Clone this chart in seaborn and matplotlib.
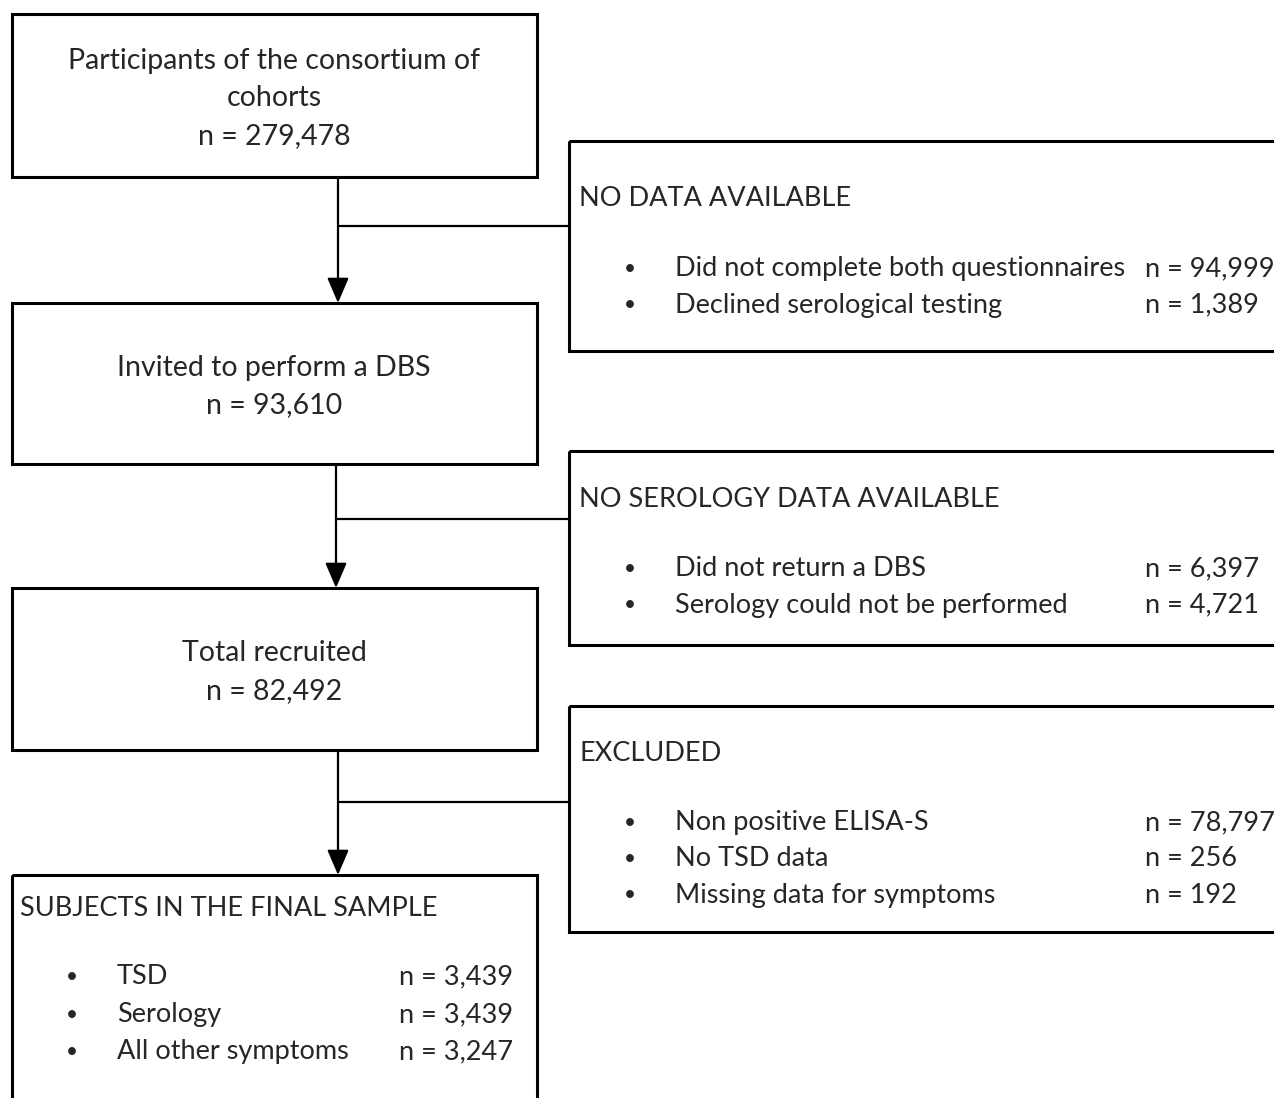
import numpy as np
import seaborn as sns
import matplotlib
matplotlib.use("Agg")
import matplotlib.pyplot as plt
from matplotlib.patches import Rectangle

# flow of participants
main_labels = ["Participants of the consortium of\ncohorts", "Invited to perform a DBS", "Total recruited"]
main_n = [279478, 93610, 82492]

excl_titles = ["NO DATA AVAILABLE", "NO SEROLOGY DATA AVAILABLE", "EXCLUDED"]
excl_reasons = [
    ["Did not complete both questionnaires", "Declined serological testing"],
    ["Did not return a DBS", "Serology could not be performed"],
    ["Non positive ELISA-S", "No TSD data", "Missing data for symptoms"],
]
excl_n = [[94999, 1389], [6397, 4721], [78797, 256, 192]]

final_title = "SUBJECTS IN THE FINAL SAMPLE"
final_items = ["TSD", "Serology", "All other symptoms"]
final_n = [3439, 3439, 3247]

sns.set_theme(style="white")
plt.rcParams['font.family'] = ['Lato', 'DejaVu Sans']
FS_MAIN = 20.5
FS = 19.5
FS_BUL = 15

fig = plt.figure(figsize=(12.74, 10.98), dpi=100)
ax = fig.add_axes([0, 0, 1, 1])
ax.set_xlim(0, 1274)
ax.set_ylim(1098, 0)
ax.axis("off")

def box(x0, y0, x1, y1):
    ax.add_patch(Rectangle((x0, y0), x1 - x0, y1 - y0, fill=False, lw=2.2, ec="black"))

# main boxes (left column)
main_y = [(14, 177), (303, 464), (588, 750)]
for (y0, y1), lab, n in zip(main_y, main_labels, main_n):
    box(12, y0, 537, y1)
    txt = lab + "\n" + f"n = {n:,}"
    ax.text(274, (y0 + y1) / 2 + 3, txt, ha="center", va="center", fontsize=FS_MAIN,
            linespacing=1.56)

# exclusion boxes (right column, cut at the edge)
excl_y = [(141, 351), (451, 645), (706, 932)]
title_y = [198.5, 499.5, 753.5]
row_y = [268.5, 568.5, 822.5]
conn_y = [226, 519, 802]
for i, (y0, y1) in enumerate(excl_y):
    box(569, y0, 1300, y1)
    ax.text(579, title_y[i], excl_titles[i], ha="left", va="center", fontsize=FS)
    for j, (r, n) in enumerate(zip(excl_reasons[i], excl_n[i])):
        yy = row_y[i] + 36.5 * j
        ax.text(630, yy, "•", ha="center", va="center", fontsize=FS_BUL)
        ax.text(675, yy, r, ha="left", va="center", fontsize=FS)
        ax.text(1145, yy, f"n = {n:,}", ha="left", va="center", fontsize=FS)

# connectors with arrows
arrow_x = [338, 336, 338]
arrow_end = [303, 588, 875]
starts = [177, 464, 750]
for x, ys, ye, yc in zip(arrow_x, starts, arrow_end, conn_y):
    ax.annotate("", xy=(x, ye), xytext=(x, ys),
                arrowprops=dict(arrowstyle="-|>,head_length=0.7,head_width=0.3",
                                lw=1.6, color="black", mutation_scale=22,
                                shrinkA=0, shrinkB=0))
    ax.plot([x, 569], [yc, yc], color="black", lw=1.6)

# final sample box
box(12, 875, 537, 1130)
ax.text(20, 909, final_title, ha="left", va="center", fontsize=FS)
for j, (it, n) in enumerate(zip(final_items, final_n)):
    yy = 977 + 37.5 * j
    ax.text(72, yy, "•", ha="center", va="center", fontsize=FS_BUL)
    ax.text(117, yy, it, ha="left", va="center", fontsize=FS)
    ax.text(399, yy, f"n = {n:,}", ha="left", va="center", fontsize=FS)

fig.savefig("out.png", dpi=100, facecolor="white")
